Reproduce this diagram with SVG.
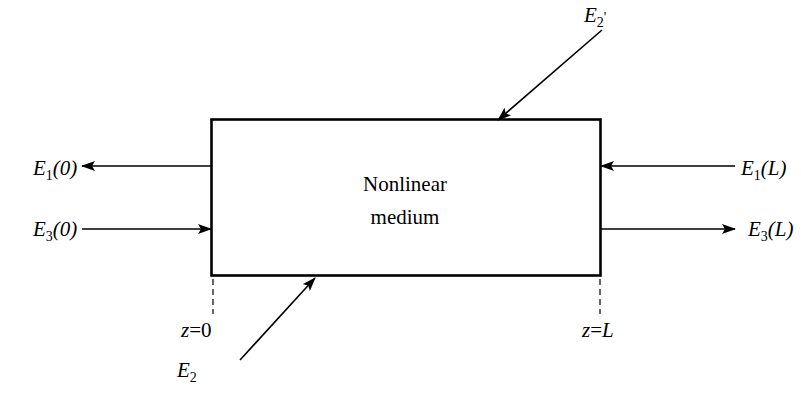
<svg xmlns="http://www.w3.org/2000/svg" width="801" height="395" viewBox="0 0 801 395">
<defs>
<marker id="ah" markerWidth="14" markerHeight="10" refX="13" refY="5" orient="auto" markerUnits="userSpaceOnUse">
<path d="M0,0 L14,5 L0,10 L3,5 Z" fill="#000"/>
</marker>
<style>
text{font-family:"Times New Roman","Liberation Serif",Times,serif;fill:#000}
.lbl{font-size:21px;font-style:italic}
.sub{font-size:14px;font-style:normal}
.ln{stroke:#000;stroke-width:1.6;fill:none}
.dash{stroke:#000;stroke-width:1.2;stroke-dasharray:6,4;fill:none}
.body{font-size:21px}
</style>
</defs>
<rect width="801" height="395" fill="#fff"/>
<g id="medium">
<rect x="211.5" y="119.5" width="389" height="156" fill="none" stroke="#000" stroke-width="2.6"/>
<text class="body" x="405" y="191" text-anchor="middle">Nonlinear</text>
<text class="body" x="405" y="224" text-anchor="middle">medium</text>
</g>
<g id="connectors">
<line class="ln" x1="211" y1="166" x2="82" y2="166" marker-end="url(#ah)"/>
<line class="ln" x1="82" y1="229" x2="211" y2="229" marker-end="url(#ah)"/>
<line class="ln" x1="735" y1="166" x2="601" y2="166" marker-end="url(#ah)"/>
<line class="ln" x1="601" y1="229" x2="735" y2="229" marker-end="url(#ah)"/>
<line class="ln" x1="602" y1="30" x2="498" y2="120" marker-end="url(#ah)"/>
<line class="ln" x1="240" y1="360" x2="315" y2="278" marker-end="url(#ah)"/>
<line class="dash" x1="213" y1="279" x2="213" y2="314"/>
<line class="dash" x1="600" y1="279" x2="600" y2="314"/>
</g>
<g id="E1_0"><text class="lbl" x="33" y="175">E<tspan class="sub" dy="5">1</tspan><tspan dy="-5">(0)</tspan></text></g>
<g id="E3_0"><text class="lbl" x="33" y="236">E<tspan class="sub" dy="5">3</tspan><tspan dy="-5">(0)</tspan></text></g>
<g id="E1_L"><text class="lbl" x="741" y="175">E<tspan class="sub" dy="5">1</tspan><tspan dy="-5">(L)</tspan></text></g>
<g id="E3_L"><text class="lbl" x="748" y="236">E<tspan class="sub" dy="5">3</tspan><tspan dy="-5">(L)</tspan></text></g>
<g id="E2p"><text class="lbl" x="584" y="22">E<tspan class="sub" dy="5">2</tspan><tspan class="sub" dy="-5">'</tspan></text></g>
<g id="E2"><text class="lbl" x="177" y="377">E<tspan class="sub" dy="5">2</tspan></text></g>
<g id="z0"><text class="lbl" x="181" y="337">z<tspan style="font-style:normal">=0</tspan></text></g>
<g id="zL"><text class="lbl" x="582" y="337">z<tspan style="font-style:normal">=</tspan>L</text></g>
</svg>
